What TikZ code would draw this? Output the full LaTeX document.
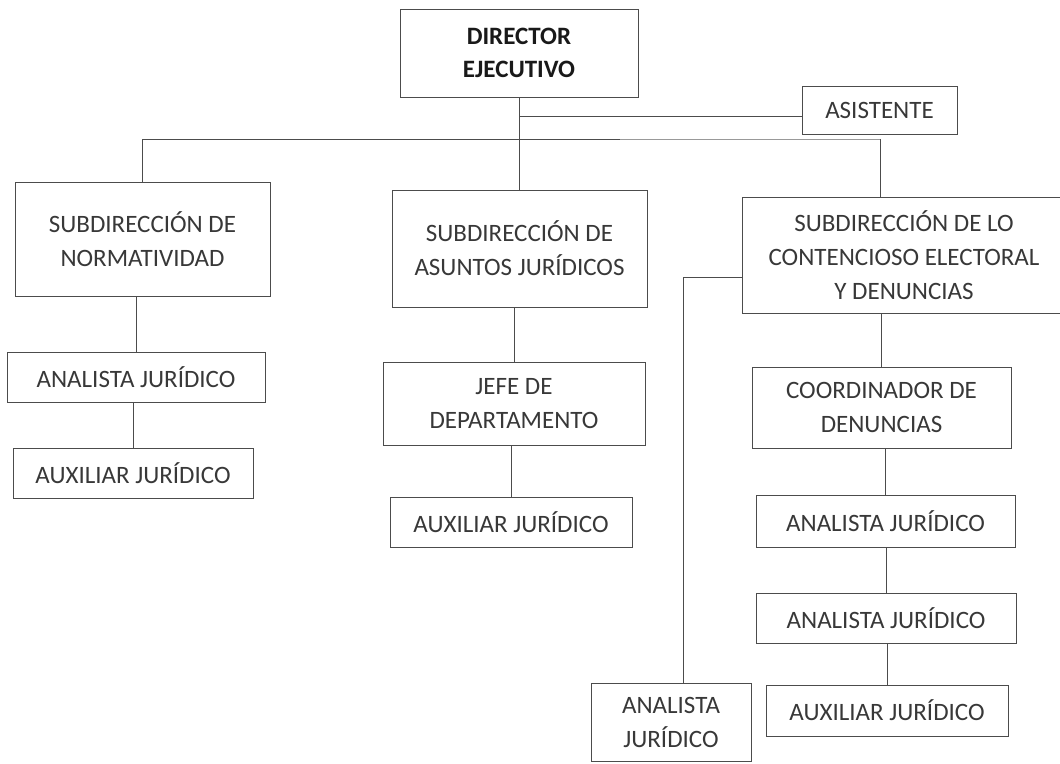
\documentclass[tikz,border=0pt]{standalone}
\usepackage{fontspec}
\setmainfont{Carlito}
\begin{document}
\begin{tikzpicture}[x=1pt,y=-1pt,
  box/.style={draw=black!70, line width=1pt, inner sep=0pt, align=center,
    font=\fontsize{25}{34}\selectfont, text=black!78},
  boss/.style={box, font=\fontsize{25}{33}\selectfont\bfseries, text=black!90},
  conn/.style={draw=black!70, line width=0.9pt},
  faint/.style={draw=black!40, line width=0.9pt}]
\useasboundingbox (0,0) rectangle (1060,763);
\fill[white] (0,0) rectangle (1060,763);
\clip (0,0) rectangle (1060,763);

% nodes
\node[boss, minimum width=238pt, minimum height=88pt] (dir) at (519,53) {DIRECTOR\\EJECUTIVO};
\node[box, minimum width=155pt, minimum height=48pt] (asis) at (879.5,110) {ASISTENTE};

\node[box, minimum width=255pt, minimum height=114pt] (norm) at (142.5,239) {SUBDIRECCIÓN DE\\NORMATIVIDAD};
\node[box, minimum width=255pt, minimum height=117pt] (asun) at (519.5,248.5) {SUBDIRECCIÓN DE\\ASUNTOS JURÍDICOS};
\node[box, minimum width=324pt, minimum height=116pt] (cont) at (904,255) {SUBDIRECCIÓN DE LO\\CONTENCIOSO ELECTORAL\\Y DENUNCIAS};

\node[box, minimum width=258pt, minimum height=50pt] (anaL) at (136,377) {ANALISTA JURÍDICO};
\node[box, minimum width=240pt, minimum height=50pt] (auxL) at (133,473) {AUXILIAR JURÍDICO};

\node[box, minimum width=262pt, minimum height=83pt] (jefe) at (514,403.5) {JEFE DE\\DEPARTAMENTO};
\node[box, minimum width=242pt, minimum height=50pt] (auxM) at (511,522) {AUXILIAR JURÍDICO};

\node[box, minimum width=259pt, minimum height=81pt] (coord) at (881.5,407.5) {COORDINADOR DE\\DENUNCIAS};
\node[box, minimum width=259pt, minimum height=52pt] (anaR1) at (885.5,521) {ANALISTA JURÍDICO};
\node[box, minimum width=260pt, minimum height=50pt] (anaR2) at (886,618) {ANALISTA JURÍDICO};
\node[box, minimum width=242pt, minimum height=51pt] (auxR) at (887,710.5) {AUXILIAR JURÍDICO};
\node[box, minimum width=160pt, minimum height=78pt] (anaB) at (671,722) {ANALISTA\\JURÍDICO};

% junction coordinates
\coordinate (ja) at (519,116);
\coordinate (bus) at (0,139);
\coordinate (cm) at (620,139);
\coordinate (cr) at (880,139);
\coordinate (kb) at (683,277);

% connectors
\draw[conn] (dir.south) -- (dir.south |- asun.north);
\draw[conn] (ja) -- (ja -| asis.west);
\draw[conn] (norm.north) -- (norm.north |- bus) -- (cm);
\draw[faint] (cm) -- (cr);
\draw[conn] (cr) -- (cr |- cont.north);
\draw[conn] (anaL.north) -- (anaL.north |- norm.south);
\draw[conn] (auxL.north) -- (auxL.north |- anaL.south);
\draw[conn] (jefe.north) -- (jefe.north |- asun.south);
\draw[conn] (auxM.north) -- (auxM.north |- jefe.south);
\draw[conn] (coord.north) -- (coord.north |- cont.south);
\draw[conn] (anaR1.north) -- (anaR1.north |- coord.south);
\draw[conn] (anaR2.north) -- (anaR2.north |- anaR1.south);
\draw[conn] (auxR.north) -- (auxR.north |- anaR2.south);
\draw[conn] (kb -| cont.west) -- (kb) -- (kb |- anaB.north);
\end{tikzpicture}
\end{document}
